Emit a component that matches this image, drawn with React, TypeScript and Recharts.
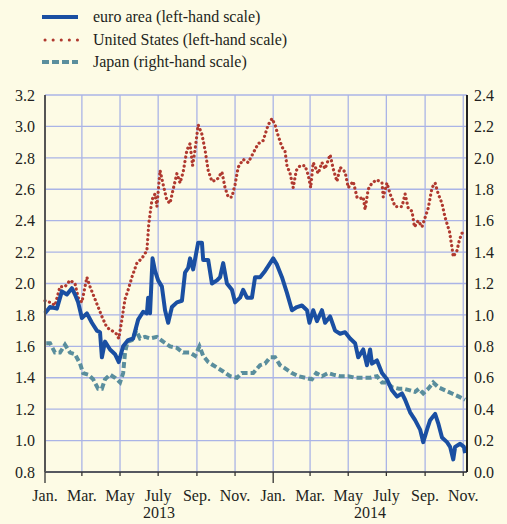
import React from 'react';
import { LineChart, Line, XAxis, YAxis, CartesianGrid, ReferenceArea } from 'recharts';

// x values are days counted from 1 Jan 2013
const monthTicks = [0, 59, 120, 181, 243, 304, 365, 424, 485, 546, 608, 669];
const monthLabels = ['Jan.', 'Mar.', 'May', 'July', 'Sep.', 'Nov.', 'Jan.', 'Mar.', 'May', 'July', 'Sep.', 'Nov.'];
const yearStarts = [0, 365];
const yearEnds = [365, 675];
const yearLabels = ['2013', '2014'];
const leftTicks = [0.8, 1.0, 1.2, 1.4, 1.6, 1.8, 2.0, 2.2, 2.4, 2.6, 2.8, 3.0, 3.2];
const rightTicks = [0, 0.2, 0.4, 0.6, 0.8, 1.0, 1.2, 1.4, 1.6, 1.8, 2.0, 2.2, 2.4];

const euroDays = [
  0, 8, 19, 27, 35, 43, 48, 53, 59, 67, 75, 83, 88, 91, 96, 104, 112, 118, 125, 133,
  141, 149, 157, 163, 165, 168, 172, 176, 181, 187, 192, 197, 203, 211, 219, 224, 229, 232, 237, 245,
  251, 253, 261, 267, 275, 280, 285, 291, 299, 304, 312, 317, 323, 331, 336, 344, 352, 357, 365, 371,
  379, 387, 395, 403, 411, 419, 423, 429, 435, 443, 448, 456, 464, 472, 480, 488, 496, 501, 509, 515,
  520, 523, 531, 539, 547, 555, 563, 571, 576, 584, 592, 600, 605, 611, 616, 624, 629, 635, 643, 648,
  653, 656, 664, 670, 672,
];
const euroValues = [
  1.81, 1.85, 1.84, 1.95, 1.93, 1.97, 1.93, 1.88, 1.78, 1.81, 1.75, 1.7, 1.69, 1.53, 1.63, 1.58, 1.55, 1.5, 1.6, 1.64,
  1.65, 1.77, 1.82, 1.81, 1.91, 1.81, 2.16, 2.08, 2.02, 1.98, 1.83, 1.75, 1.85, 1.88, 1.89, 2.07, 2.1, 2.16, 2.09, 2.26,
  2.26, 2.15, 2.15, 2.0, 2.02, 2.04, 2.13, 2.0, 1.96, 1.88, 1.91, 1.96, 1.91, 1.91, 2.04, 2.04, 2.08, 2.11, 2.16, 2.12,
  2.04, 1.94, 1.83, 1.85, 1.86, 1.83, 1.75, 1.83, 1.76, 1.83, 1.75, 1.79, 1.7, 1.68, 1.69, 1.65, 1.62, 1.53, 1.58, 1.48,
  1.58, 1.49, 1.51, 1.43, 1.39, 1.32, 1.28, 1.3, 1.26, 1.18, 1.13, 1.07, 0.99, 1.07, 1.13, 1.17, 1.11, 1.02, 0.99, 0.96,
  0.88, 0.96, 0.98, 0.96, 0.92,
];

const usDays = [
  0, 8, 16, 24, 32, 40, 48, 53, 59, 67, 72, 77, 85, 91, 99, 107, 114, 118, 123, 128,
  133, 139, 147, 155, 163, 166, 171, 173, 176, 179, 184, 189, 195, 200, 205, 211, 216, 221, 227, 232,
  236, 240, 245, 251, 256, 261, 267, 275, 283, 288, 293, 299, 304, 309, 317, 325, 333, 341, 349, 357,
  363, 368, 373, 379, 384, 387, 392, 397, 402, 408, 416, 421, 425, 429, 437, 443, 448, 456, 461, 467,
  472, 480, 485, 493, 499, 504, 509, 512, 517, 523, 531, 539, 541, 547, 552, 560, 571, 576, 581, 587,
  591, 597, 603, 608, 613, 619, 624, 629, 635, 640, 647, 651, 653, 659, 663, 667, 672,
];
const usValues = [
  1.89, 1.88, 1.86, 1.98, 1.98, 2.02, 2.0, 1.91, 1.88, 2.04, 1.98, 1.93, 1.85, 1.79, 1.72, 1.7, 1.68, 1.65, 1.77, 1.9,
  1.96, 2.04, 2.13, 2.16, 2.21, 2.38, 2.53, 2.55, 2.57, 2.49, 2.72, 2.63, 2.53, 2.51, 2.6, 2.7, 2.64, 2.71, 2.85, 2.89,
  2.75, 2.85, 3.01, 2.95, 2.85, 2.72, 2.65, 2.66, 2.71, 2.61, 2.55, 2.55, 2.63, 2.74, 2.79, 2.77, 2.83, 2.89, 2.91, 3.01,
  3.05, 3.01, 2.94, 2.87, 2.84, 2.75, 2.7, 2.61, 2.72, 2.75, 2.75, 2.69, 2.61, 2.77, 2.7, 2.77, 2.73, 2.82, 2.73, 2.65,
  2.74, 2.71, 2.61, 2.65, 2.55, 2.54, 2.55, 2.47, 2.6, 2.64, 2.66, 2.64, 2.55, 2.64, 2.57, 2.49, 2.49, 2.57, 2.48, 2.46,
  2.36, 2.4, 2.36, 2.42, 2.48, 2.61, 2.64, 2.57, 2.51, 2.42, 2.33, 2.23, 2.17, 2.21, 2.28, 2.32, 2.34,
];

const japanDays = [
  2, 8, 16, 24, 32, 40, 48, 56, 61, 69, 77, 85, 91, 96, 104, 112, 120, 125, 128, 132,
  139, 146, 152, 160, 168, 179, 189, 200, 211, 221, 232, 240, 247, 253, 261, 269, 277, 285, 296, 307,
  315, 323, 333, 344, 352, 360, 368, 376, 384, 395, 405, 416, 427, 434, 443, 453, 461, 472, 485, 496,
  507, 520, 531, 539, 547, 555, 566, 574, 584, 592, 598, 605, 613, 621, 629, 640, 651, 662, 672,
];
const japanValues = [
  0.82, 0.82, 0.76, 0.76, 0.81, 0.76, 0.75, 0.69, 0.63, 0.62, 0.59, 0.53, 0.53, 0.59, 0.62, 0.6, 0.57, 0.63, 0.76, 0.83,
  0.84, 0.9, 0.85, 0.86, 0.85, 0.86, 0.83, 0.8, 0.79, 0.76, 0.76, 0.74, 0.8, 0.74, 0.7, 0.68, 0.66, 0.64, 0.61, 0.6,
  0.63, 0.63, 0.63, 0.68, 0.69, 0.73, 0.73, 0.68, 0.66, 0.63, 0.61, 0.6, 0.59, 0.63, 0.61, 0.63, 0.62, 0.61, 0.61, 0.6,
  0.6, 0.6, 0.61, 0.57, 0.57, 0.54, 0.53, 0.53, 0.52, 0.51, 0.53, 0.5, 0.53, 0.57, 0.54, 0.52, 0.5, 0.48, 0.46,
];

const toSeries = (days: number[], values: number[]) =>
  days.map((day, i) => ({ day, v: values[i] }));

const euroData = toSeries(euroDays, euroValues);
const usData = toSeries(usDays, usValues);
const japanData = toSeries(japanDays, japanValues);

const FONT = '"Liberation Serif", Tinos, "Times New Roman", Times, "DejaVu Serif", serif';
const TEXT = '#231f20';
const BG = '#fdfbe5';
const EURO = '#1a4fa2';
const US = '#b0392f';
const JAPAN = '#5a8e9d';
const GRID = '#aab4e6';

const MonthTick = (props: any) => {
  const { x, y, payload, index } = props;
  const axisY = y - 18; // tickSize 6 + tickMargin 12
  const isJan = payload.value === 0 || payload.value === 365;
  return (
    <g>
      <line x1={x} x2={x} y1={axisY} y2={axisY + (isJan ? 11 : 4)} stroke="#333" strokeWidth={1.3} />
      <text x={x} y={y} dy="0.71em" textAnchor="middle" style={{ fontSize: 16, fontFamily: FONT }} fill={TEXT}>
        {monthLabels[index]}
      </text>
    </g>
  );
};

const legendItems = [
  { label: 'euro area (left-hand scale)', color: EURO, dash: undefined, width: 4 },
  { label: 'United States (left-hand scale)', color: US, dash: '0.1 8', width: 3 },
  { label: 'Japan (right-hand scale)', color: JAPAN, dash: '7 3', width: 4 },
];

const ChartLegend = () => (
  <div style={{ position: 'absolute', left: 42, top: 6, fontFamily: FONT, fontSize: 16, color: TEXT }}>
    {legendItems.map((item) => (
      <div key={item.label} style={{ display: 'flex', alignItems: 'center', height: 22.5 }}>
        <svg width={51} height={10}>
          <line
            x1={item.dash === '0.1 8' ? 3 : 0}
            x2={36}
            y1={5}
            y2={5}
            stroke={item.color}
            strokeWidth={item.width}
            strokeDasharray={item.dash}
            strokeLinecap={item.dash === '0.1 8' ? 'round' : 'butt'}
          />
        </svg>
        <span>{item.label}</span>
      </div>
    ))}
  </div>
);

const tickStyle = { fontSize: 16, fontFamily: FONT, fill: TEXT };

export default function App() {
  return (
    <div style={{ position: 'absolute', left: 0, top: 0, width: 507, height: 524, background: BG, fontFamily: FONT }}>
      <ChartLegend />
      <LineChart width={507} height={524} margin={{ top: 95, right: 0, bottom: 22, left: 0 }} style={{ fontFamily: FONT }}>
        <CartesianGrid yAxisId="left" stroke={GRID} strokeWidth={1.3} />
        <XAxis
          dataKey="day"
          type="number"
          domain={[0, 675]}
          ticks={monthTicks}
          interval={0}
          height={30}
          tickSize={6}
          tickMargin={12}
          tickLine={false}
          axisLine={{ stroke: '#333', strokeWidth: 1.5 }}
          tick={<MonthTick />}
        />
        <YAxis
          yAxisId="left"
          domain={[0.8, 3.2]}
          ticks={leftTicks}
          interval={0}
          width={45}
          tickLine={false}
          tickMargin={4}
          axisLine={{ stroke: '#555', strokeWidth: 2 }}
          tickFormatter={(v: number) => v.toFixed(1)}
          tick={tickStyle}
        />
        <YAxis
          yAxisId="right"
          orientation="right"
          domain={[0, 2.4]}
          ticks={rightTicks}
          interval={0}
          width={40}
          tickLine={false}
          tickMargin={1}
          axisLine={{ stroke: '#222', strokeWidth: 2 }}
          tickFormatter={(v: number) => v.toFixed(1)}
          tick={tickStyle}
        />
        {yearLabels.map((label, i) => (
          <ReferenceArea
            key={label}
            yAxisId="left"
            x1={yearStarts[i]}
            x2={yearEnds[i]}
            fill="none"
            stroke="none"
            ifOverflow="visible"
            label={{ value: label, position: 'bottom', offset: 35, fill: TEXT, fontSize: 16, fontFamily: FONT }}
          />
        ))}
        <Line
          yAxisId="right"
          data={japanData}
          dataKey="v"
          type="linear"
          stroke={JAPAN}
          strokeWidth={4}
          strokeDasharray="6 3"
          dot={false}
          isAnimationActive={false}
        />
        <Line
          yAxisId="left"
          data={usData}
          dataKey="v"
          type="linear"
          stroke={US}
          strokeWidth={3.2}
          strokeDasharray="0.1 4.5"
          strokeLinecap="round"
          dot={false}
          isAnimationActive={false}
        />
        <Line
          yAxisId="left"
          data={euroData}
          dataKey="v"
          type="linear"
          stroke={EURO}
          strokeWidth={4}
          strokeLinejoin="round"
          dot={false}
          isAnimationActive={false}
        />
      </LineChart>
    </div>
  );
}
